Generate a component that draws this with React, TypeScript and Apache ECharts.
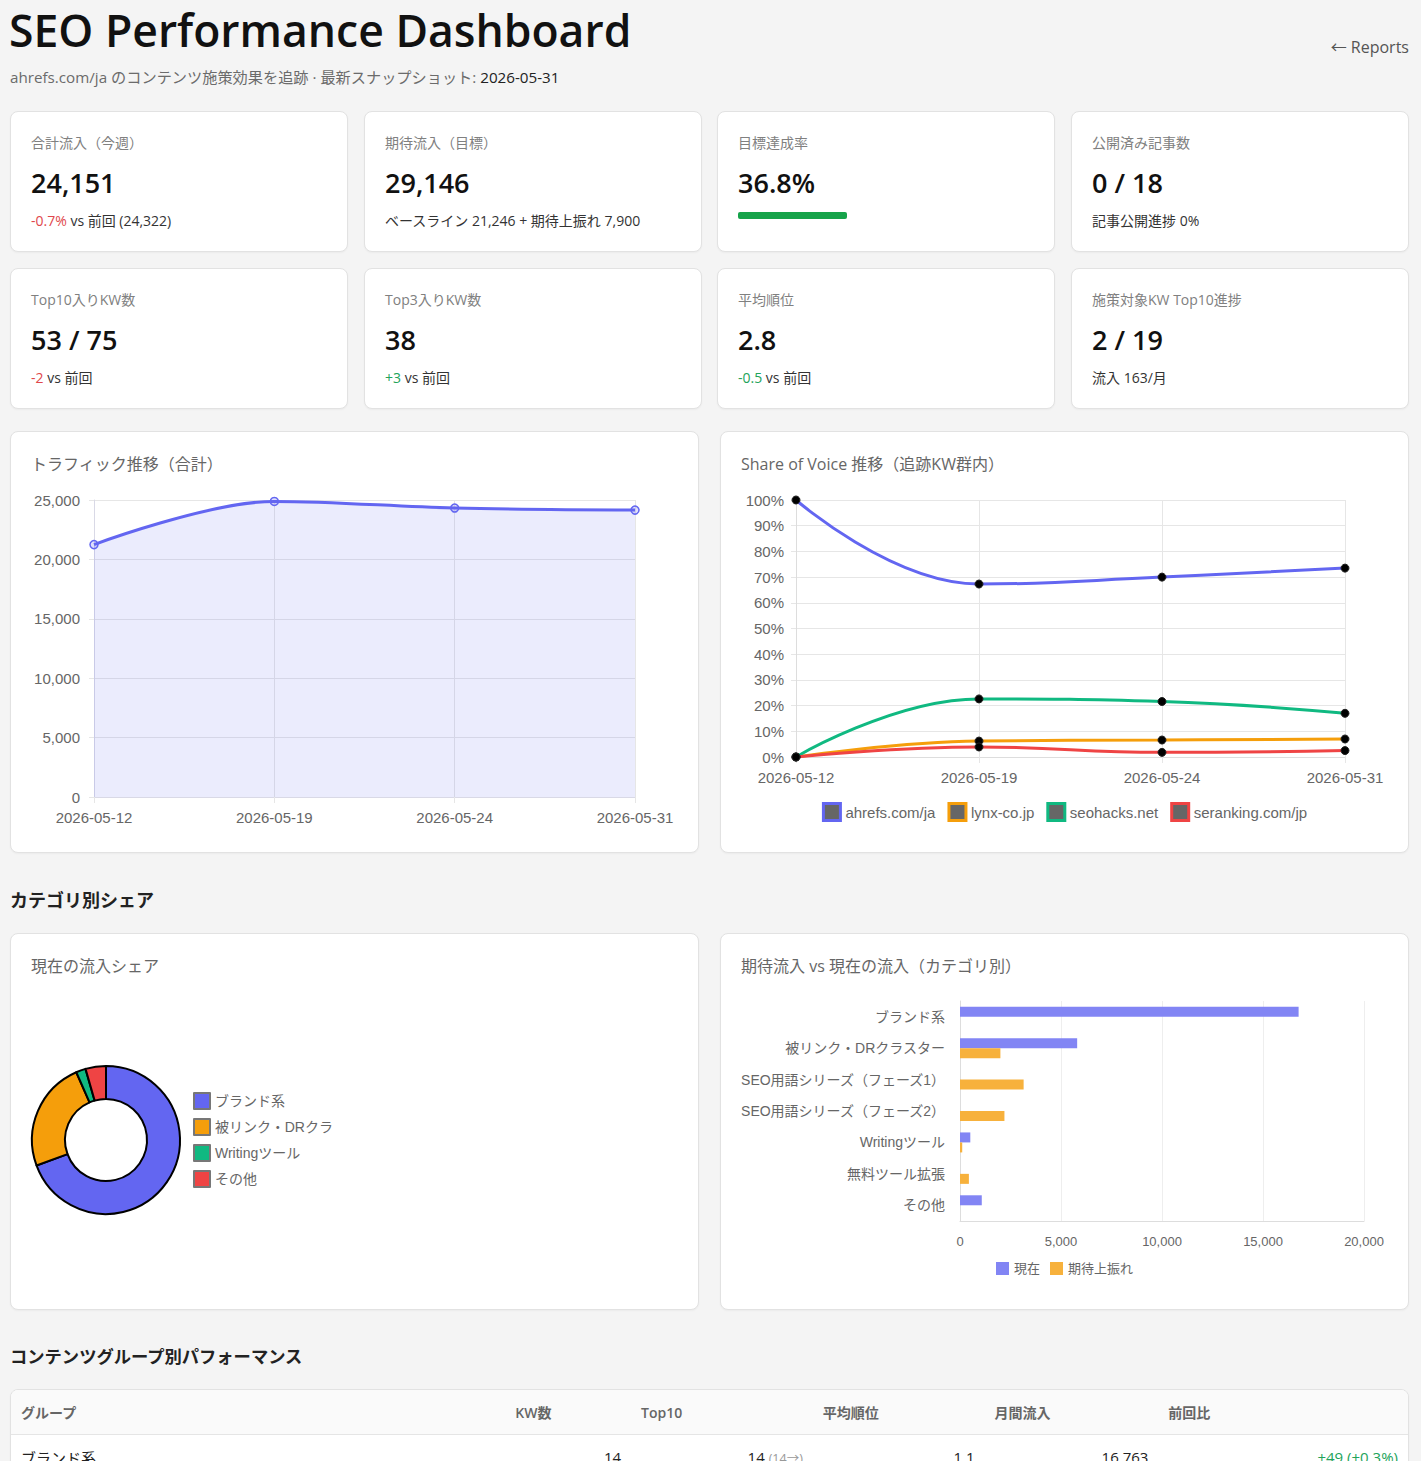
import React, { useEffect, useRef } from "react";
import * as echarts from "echarts";

// ---------- data ----------
const trafficDates = ["2026-05-12", "2026-05-19", "2026-05-24", "2026-05-31"];
const trafficTotals = [21246, 24880, 24322, 24151];
const trafficTicks = [0, 5000, 10000, 15000, 20000, 25000];

const sovNames = ["ahrefs.com/ja", "lynx-co.jp", "seohacks.net", "seranking.com/jp"];
const sovAhrefs = [100, 67.3, 70.0, 73.5];
const sovLynx = [0, 6.2, 6.6, 7.0];
const sovSeohacks = [0, 22.6, 21.6, 17.0];
const sovSeranking = [0, 3.9, 1.8, 2.5];

const shareCategories = ["ブランド系", "被リンク・DRクラスター", "Writingツール", "その他"];
const shareValues = [16763, 5800, 510, 1078];

const barCategories = [
  "ブランド系",
  "被リンク・DRクラスター",
  "SEO用語シリーズ（フェーズ1）",
  "SEO用語シリーズ（フェーズ2）",
  "Writingツール",
  "無料ツール拡張",
  "その他",
];
const barCurrent = [16763, 5800, 0, 0, 510, 0, 1078];
const barUplift = [0, 2000, 3150, 2200, 110, 440, 0];
const barSeriesNames = ["現在", "期待上振れ"];

const kpiLabels = [
  "合計流入（今週）",
  "期待流入（目標）",
  "目標達成率",
  "公開済み記事数",
  "Top10入りKW数",
  "Top3入りKW数",
  "平均順位",
  "施策対象KW Top10進捗",
];
const kpiValues = ["24,151", "29,146", "36.8%", "0 / 18", "53 / 75", "38", "2.8", "2 / 19"];
const kpiDeltas = ["-0.7%", "", "", "", "-2", "+3", "-0.5", ""];
const kpiDeltaGood = [false, false, false, false, false, true, true, false];
const kpiSubs = [
  " vs 前回 (24,322)",
  "ベースライン 21,246 + 期待上振れ 7,900",
  "",
  "記事公開進捗 0%",
  " vs 前回",
  " vs 前回",
  " vs 前回",
  "流入 163/月",
];
const goalRate = 36.8;

const tableHeaders = ["グループ", "KW数", "Top10", "平均順位", "月間流入", "前回比"];
const tableGroups = ["ブランド系"];
const tableKw = ["14"];
const tableTop10 = ["14"];
const tableTop10Prev = ["(14→)"];
const tableAvgRank = ["1.1"];
const tableTraffic = ["16,763"];
const tableChange = ["+49 (+0.3%)"];

// ---------- styles ----------
const UI_FONT = '"Open Sans", "Noto Sans CJK JP", sans-serif';
const CHART_FONT = '"Liberation Sans", Arial, "Noto Sans CJK JP", sans-serif';
const INDIGO = "#6366f1";
const AMBER = "#f59e0b";
const EMERALD = "#10b981";
const RED = "#ef4444";
const GRID = "#e6e6e6";
const LABEL = "#666";

const cardStyle: React.CSSProperties = {
  position: "absolute",
  background: "#fff",
  border: "1px solid #e2e2e2",
  borderRadius: 8,
  boxShadow: "0 1px 2px rgba(0,0,0,0.04)",
  boxSizing: "border-box",
  overflow: "hidden",
};

function EChart({ option, style }: { option: any; style: React.CSSProperties }) {
  const ref = useRef<HTMLDivElement>(null);
  useEffect(() => {
    const chart = echarts.init(ref.current!, null, { renderer: "svg" });
    chart.setOption(option);
    return () => chart.dispose();
  }, []);
  return <div ref={ref} style={style} />;
}

const fmt = (v: number) => v.toLocaleString("en-US");

function trafficOption() {
  return {
    animation: false,
    textStyle: { fontFamily: CHART_FONT },
    grid: { left: 83, top: 68, right: 63, bottom: 55 },
    xAxis: {
      type: "category",
      data: trafficDates,
      boundaryGap: false,
      axisLine: { lineStyle: { color: "#d9d9e6" } },
      axisTick: { show: true, length: 6, lineStyle: { color: GRID } },
      axisLabel: { color: LABEL, fontSize: 15, margin: 13, fontFamily: CHART_FONT },
      splitLine: { show: true, lineStyle: { color: GRID } },
    },
    yAxis: {
      type: "value",
      min: 0,
      max: trafficTicks[trafficTicks.length - 1],
      interval: trafficTicks[1] - trafficTicks[0],
      axisLine: { show: true, lineStyle: { color: "#d9d9e6" } },
      axisTick: { show: true, length: 5, lineStyle: { color: GRID } },
      axisLabel: { color: LABEL, fontSize: 15, margin: 14, formatter: fmt, fontFamily: CHART_FONT },
      splitLine: { lineStyle: { color: GRID } },
    },
    series: [
      {
        type: "line",
        data: trafficTotals,
        smooth: 0.35,
        symbol: "circle",
        symbolSize: 8,
        lineStyle: { color: INDIGO, width: 3 },
        itemStyle: { color: "rgba(99,102,241,0.2)", borderColor: INDIGO, borderWidth: 1.5 },
        areaStyle: { color: "rgba(99,102,241,0.18)" },
      },
    ],
  };
}

function sovOption() {
  const colors = [INDIGO, AMBER, EMERALD, RED];
  const datas = [sovAhrefs, sovLynx, sovSeohacks, sovSeranking];
  return {
    animation: false,
    textStyle: { fontFamily: CHART_FONT },
    grid: { left: 75, top: 68, right: 63, bottom: 95 },
    legend: {
      left: "center",
      top: 370,
      padding: 0,
      icon: "rect",
      itemWidth: 17,
      itemHeight: 17,
      itemGap: 12,
      textStyle: { color: LABEL, fontSize: 15, fontFamily: CHART_FONT },
      data: sovNames.map((n, i) => ({
        name: n,
        itemStyle: { color: "#666", borderColor: colors[i], borderWidth: 3 },
      })),
    },
    xAxis: {
      type: "category",
      data: trafficDates,
      boundaryGap: false,
      axisLine: { lineStyle: { color: "#ddd" } },
      axisTick: { show: true, length: 6, lineStyle: { color: GRID } },
      axisLabel: { color: LABEL, fontSize: 15, margin: 13, fontFamily: CHART_FONT },
      splitLine: { show: true, lineStyle: { color: GRID } },
    },
    yAxis: {
      type: "value",
      min: 0,
      max: 100,
      interval: 10,
      axisLine: { show: true, lineStyle: { color: "#ddd" } },
      axisTick: { show: true, length: 5, lineStyle: { color: GRID } },
      axisLabel: { color: LABEL, fontSize: 15, margin: 12, formatter: "{value}%", fontFamily: CHART_FONT },
      splitLine: { lineStyle: { color: GRID } },
    },
    series: sovNames.map((n, i) => ({
      name: n,
      type: "line",
      data: datas[i],
      smooth: 0.45,
      symbol: "circle",
      symbolSize: 8,
      lineStyle: { color: colors[i], width: 3 },
      itemStyle: { color: "#000", borderColor: "#222", borderWidth: 1 },
    })),
  };
}

function donutOption() {
  const colors = [INDIGO, AMBER, EMERALD, RED];
  return {
    animation: false,
    textStyle: { fontFamily: CHART_FONT },
    legend: {
      orient: "vertical",
      left: 182,
      top: 158,
      padding: 0,
      icon: "rect",
      itemWidth: 16,
      itemHeight: 16,
      itemGap: 8,
      itemStyle: { borderColor: "#777", borderWidth: 2 },
      textStyle: { color: LABEL, fontSize: 14, lineHeight: 16, fontFamily: CHART_FONT },
      formatter: (name: string) => (name.length > 10 ? name.slice(0, 9) : name),
      data: shareCategories,
    },
    series: [
      {
        type: "pie",
        center: [95, 206],
        radius: [41, 74],
        startAngle: 90,
        clockwise: true,
        label: { show: false },
        labelLine: { show: false },
        itemStyle: { borderColor: "#000", borderWidth: 2 },
        data: shareCategories.map((n, i) => ({ name: n, value: shareValues[i], itemStyle: { color: colors[i] } })),
      },
    ],
  };
}

function barOption() {
  return {
    animation: false,
    textStyle: { fontFamily: CHART_FONT },
    grid: { left: 239, top: 67, right: 44, bottom: 88 },
    legend: {
      left: "center",
      top: 328,
      padding: 0,
      icon: "rect",
      itemWidth: 13,
      itemHeight: 13,
      itemGap: 10,
      textStyle: { color: LABEL, fontSize: 13, fontFamily: CHART_FONT },
      data: barSeriesNames,
    },
    xAxis: {
      type: "value",
      min: 0,
      max: 20000,
      interval: 5000,
      axisLine: { show: true, lineStyle: { color: "#ddd" } },
      axisTick: { show: false },
      axisLabel: { color: LABEL, fontSize: 13, margin: 14, formatter: fmt, fontFamily: CHART_FONT },
      splitLine: { show: true, lineStyle: { color: "#eee" } },
    },
    yAxis: {
      type: "category",
      data: barCategories,
      inverse: true,
      axisLine: { show: true, lineStyle: { color: "#ddd" } },
      axisTick: { show: false },
      axisLabel: { color: LABEL, fontSize: 14, margin: 15, fontFamily: CHART_FONT },
      splitLine: { show: false },
    },
    series: [
      {
        name: barSeriesNames[0],
        type: "bar",
        data: barCurrent,
        barWidth: 10,
        barGap: "0%",
        itemStyle: { color: "#8285f4" },
      },
      {
        name: barSeriesNames[1],
        type: "bar",
        data: barUplift,
        barWidth: 10,
        barGap: "0%",
        itemStyle: { color: "#f7b13c" },
      },
    ],
  };
}

function KpiCard({ i, left, top }: { i: number; left: number; top: number }) {
  const delta = kpiDeltas[i];
  return (
    <div style={{ ...cardStyle, left, top, width: 338, height: 141 }}>
      <div style={{ position: "absolute", left: 20, top: 21, fontSize: 14, lineHeight: "20px", color: "#808080", whiteSpace: "nowrap" }}>
        {kpiLabels[i]}
      </div>
      <div
        style={{ position: "absolute", left: 20, top: 54, fontSize: 27, lineHeight: "34px", fontWeight: 600, color: "#111" }}
      >
        {kpiValues[i]}
      </div>
      {i === 2 ? (
        <div
          style={{
            position: "absolute",
            left: 20,
            top: 100,
            width: 296,
            height: 7,
            borderRadius: 3,
            background: "transparent",
          }}
        >
          <div style={{ width: `${goalRate}%`, height: 7, background: "#16a34a", borderRadius: 2 }} />
        </div>
      ) : (
        <div style={{ position: "absolute", left: 20, top: 99, fontSize: 14, lineHeight: "20px", color: "#333", whiteSpace: "nowrap" }}>
          {delta ? <span style={{ color: kpiDeltaGood[i] ? "#22a35a" : "#e0474c" }}>{delta}</span> : null}
          {kpiSubs[i]}
        </div>
      )}
    </div>
  );
}

const colWidths = [495, 126, 182, 172, 174, 250];

export default function App() {
  const kpiLefts = [10, 364, 717, 1071];
  return (
    <div
      style={{
        position: "absolute",
        left: 0,
        top: 0,
        width: 1421,
        height: 1461,
        overflow: "hidden",
        background: "#f4f4f4",
        fontFamily: UI_FONT,
        color: "#222",
      }}
    >
      {/* header */}
      <div style={{ position: "absolute", left: 9, top: 8, fontSize: 44.5, lineHeight: "44px", fontWeight: 600, color: "#111", whiteSpace: "nowrap" }}>
        SEO Performance Dashboard
      </div>
      <div style={{ position: "absolute", left: 10, top: 67, fontSize: 15.2, lineHeight: "20px", color: "#6b6b6b", whiteSpace: "nowrap" }}>
        ahrefs.com/ja のコンテンツ施策効果を追跡 · 最新スナップショット: <span style={{ color: "#222" }}>2026-05-31</span>
      </div>
      <div style={{ position: "absolute", right: 12, top: 37, fontSize: 16, lineHeight: "20px", color: "#555", whiteSpace: "nowrap" }}>
        ← Reports
      </div>

      {/* KPI cards */}
      {[0, 1, 2, 3].map((k) => (
        <KpiCard key={"a" + k} i={k} left={kpiLefts[k]} top={111} />
      ))}
      {[4, 5, 6, 7].map((k) => (
        <KpiCard key={"b" + k} i={k} left={kpiLefts[k - 4]} top={268} />
      ))}

      {/* traffic chart */}
      <div style={{ ...cardStyle, left: 10, top: 431, width: 689, height: 422 }}>
        <EChart option={trafficOption()} style={{ position: "absolute", left: 0, top: 0, width: 687, height: 420 }} />
        <div style={{ position: "absolute", left: 20, top: 22, fontSize: 16, lineHeight: "20px", color: "#666" }}>
          トラフィック推移（合計）
        </div>
      </div>

      {/* SOV chart */}
      <div style={{ ...cardStyle, left: 720, top: 431, width: 689, height: 422 }}>
        <EChart option={sovOption()} style={{ position: "absolute", left: 0, top: 0, width: 687, height: 420 }} />
        <div style={{ position: "absolute", left: 20, top: 22, fontSize: 16, lineHeight: "20px", color: "#666" }}>
          Share of Voice 推移（追跡KW群内）
        </div>
      </div>

      {/* section heading */}
      <div style={{ position: "absolute", left: 10, top: 888, fontSize: 18, lineHeight: "24px", fontWeight: 700, color: "#222" }}>
        カテゴリ別シェア
      </div>

      {/* donut */}
      <div style={{ ...cardStyle, left: 10, top: 933, width: 689, height: 377 }}>
        <EChart option={donutOption()} style={{ position: "absolute", left: 0, top: 0, width: 687, height: 375 }} />
        <div style={{ position: "absolute", left: 20, top: 22, fontSize: 16, lineHeight: "20px", color: "#666" }}>
          現在の流入シェア
        </div>
      </div>

      {/* bar chart */}
      <div style={{ ...cardStyle, left: 720, top: 933, width: 689, height: 377 }}>
        <EChart option={barOption()} style={{ position: "absolute", left: 0, top: 0, width: 687, height: 375 }} />
        <div style={{ position: "absolute", left: 20, top: 22, fontSize: 16, lineHeight: "20px", color: "#666" }}>
          期待流入 vs 現在の流入（カテゴリ別）
        </div>
      </div>

      {/* table heading */}
      <div style={{ position: "absolute", left: 10, top: 1345, fontSize: 17.3, lineHeight: "24px", fontWeight: 700, color: "#222" }}>
        コンテンツグループ別パフォーマンス
      </div>

      {/* table */}
      <div style={{ ...cardStyle, left: 10, top: 1389, width: 1399, height: 140 }}>
        <div style={{ display: "flex", height: 44, alignItems: "center", background: "#fafafa", borderBottom: "1px solid #e5e5e5" }}>
          {tableHeaders.map((h, i) => (
            <div
              key={h}
              style={{ width: colWidths[i], boxSizing: "border-box", padding: "0 10px", fontSize: 14, fontWeight: 600, color: "#666" }}
            >
              {h}
            </div>
          ))}
        </div>
        {tableGroups.map((g, r) => (
          <div key={g} style={{ display: "flex", height: 44, alignItems: "center", fontSize: 15, color: "#222" }}>
            <div style={{ width: colWidths[0], boxSizing: "border-box", padding: "0 10px" }}>{g}</div>
            <div style={{ width: colWidths[1], boxSizing: "border-box", padding: "0 10px", textAlign: "right" }}>{tableKw[r]}</div>
            <div style={{ width: colWidths[2], boxSizing: "border-box", padding: "0 10px", textAlign: "right" }}>
              {tableTop10[r]} <span style={{ fontSize: 12.5, color: "#999" }}>{tableTop10Prev[r]}</span>
            </div>
            <div style={{ width: colWidths[3], boxSizing: "border-box", padding: "0 10px", textAlign: "right" }}>{tableAvgRank[r]}</div>
            <div style={{ width: colWidths[4], boxSizing: "border-box", padding: "0 10px", textAlign: "right" }}>{tableTraffic[r]}</div>
            <div style={{ width: colWidths[5], boxSizing: "border-box", padding: "0 10px", textAlign: "right", color: "#22a35a" }}>
              {tableChange[r]}
            </div>
          </div>
        ))}
      </div>
    </div>
  );
}
